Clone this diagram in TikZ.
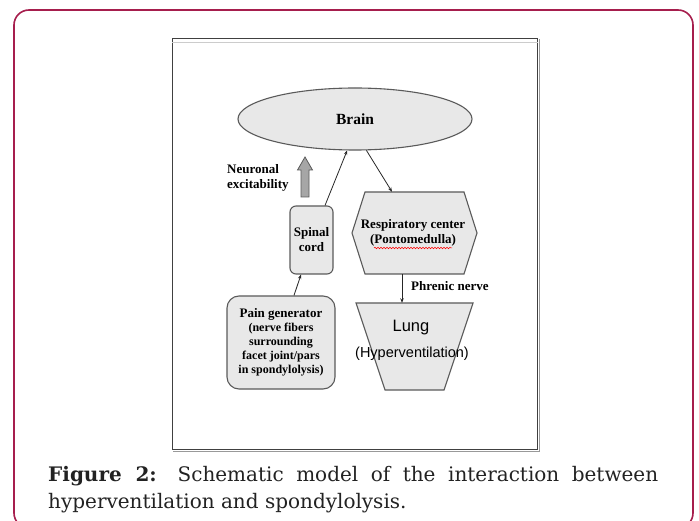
\documentclass[tikz,border=0pt]{standalone}
\usepackage{fontspec}
\setmainfont{Liberation Serif}
\newfontfamily\capfont{DejaVu Serif}
\newfontfamily\lsans{Liberation Sans}
\usetikzlibrary{shapes.geometric,arrows.meta,decorations.pathmorphing,calc}
\definecolor{frame}{HTML}{A61E4D}
\definecolor{boxfill}{HTML}{E8E8E8}
\definecolor{boxline}{HTML}{5A5A5A}
\definecolor{arrfill}{HTML}{A6A6A6}
\definecolor{captext}{HTML}{222222}
\begin{document}
\begin{tikzpicture}[x=1pt,y=-1pt,
  shapebox/.style={draw=boxline,fill=boxfill,line width=1.1pt},
  lbl/.style={font=\bfseries\fontsize{13}{15}\selectfont,inner sep=0pt,align=center},
  conn/.style={draw=black!85,line width=0.8pt,-{Stealth[length=4.5pt,width=3.5pt]}},
  captxt/.style={anchor=base west,inner sep=0pt,text=captext,font=\capfont\fontsize{20}{27}\selectfont},
]
\useasboundingbox (0,0) rectangle (699,521);
\clip (0,0) rectangle (699,521);
% outer frame
\draw[frame,line width=1.6pt,rounded corners=15pt] (14,10) rectangle (693,528);
% figure box
\node[draw=black!75,line width=0.9pt,minimum width=365pt,minimum height=411pt,inner sep=0pt,anchor=north west] (fig) at (172,38) {};
\draw[black!20,line width=0.6pt] ([yshift=-4pt]fig.north west) -- ([yshift=-4pt]fig.north east);
\draw[black!40,line width=0.8pt] ([xshift=1.2pt,yshift=-1pt]fig.north east) -- ([xshift=1.2pt,yshift=-1.2pt]fig.south east) -- ([xshift=1pt,yshift=-1.2pt]fig.south west);

% brain
\node[shapebox,ellipse,minimum width=234pt,minimum height=62pt,inner sep=0pt,font=\bfseries\fontsize{15.5}{18}\selectfont] (brain) at (355,119) {Brain};

% spinal cord
\node[shapebox,rounded corners=6pt,minimum width=43pt,minimum height=68pt,lbl] (spinal) at (311.5,240) {Spinal\\cord};

% pain generator
\node[shapebox,rounded corners=12pt,minimum width=108pt,minimum height=93pt,inner sep=0pt,align=center,font=\bfseries\fontsize{12}{14}\selectfont] (pain) at (281,342.5)
  {{\fontsize{13}{14}\selectfont Pain generator}\\(nerve fibers\\surrounding\\facet joint/pars\\in spondylolysis)};

% respiratory center (hexagon)
\draw[shapebox] (352,233) -- (365,192) -- (464,192) -- (477,233) -- (464,274) -- (365,274) -- cycle;
\node[minimum width=125pt,minimum height=82pt,lbl] (resp) at (413,233) {Respiratory center\\(Pontomedulla)};
\draw[red,line width=0.5pt,decorate,decoration={snake,segment length=3pt,amplitude=0.8pt}] (374,248) -- (452,248);

% lung (trapezoid)
\draw[shapebox] (356,303) -- (473,303) -- (444,390) -- (385,390) -- cycle;
\node[minimum width=117pt,minimum height=87pt,inner sep=0pt] (lung) at (414.5,346.5) {};
\node[anchor=base,inner sep=0pt,font=\lsans\fontsize{16.5}{18}\selectfont] (lungt) at (411,332) {Lung};
\node[anchor=base,inner sep=0pt,font=\lsans\fontsize{14.5}{17}\selectfont] (hyp) at (412,358) {(Hyperventilation)};

% labels
\node[lbl,align=left,anchor=west] (neur) at (227,178) {Neuronal\\excitability};
\node[lbl,anchor=base west] (phr) at (411,291) {Phrenic nerve};

% block arrow
\draw[draw=boxline,fill=arrfill,line width=0.8pt] (301,197) -- (301,170) -- (297.5,170) -- (305,157) -- (312.5,170) -- (309,170) -- (309,197) -- cycle;

% connectors
\draw[conn] ([xshift=13.5pt]spinal.north) -- (brain.-104);
\draw[conn] (brain.-70) -- ([xshift=-21pt]resp.north);
\draw[conn] ([xshift=13pt]pain.north) -- ([xshift=-10.5pt]spinal.south);
\draw[conn] ([xshift=-11pt]resp.south) -- ([xshift=-12.5pt]lung.north);

% caption
\node[captxt] (cap1) at (48,481) {\makebox[610pt][s]{\textbf{Figure 2:} Schematic model of the interaction between}};
\node[captxt] (cap2) at (48,508) {hyperventilation and spondylolysis.};
\end{tikzpicture}
\end{document}
